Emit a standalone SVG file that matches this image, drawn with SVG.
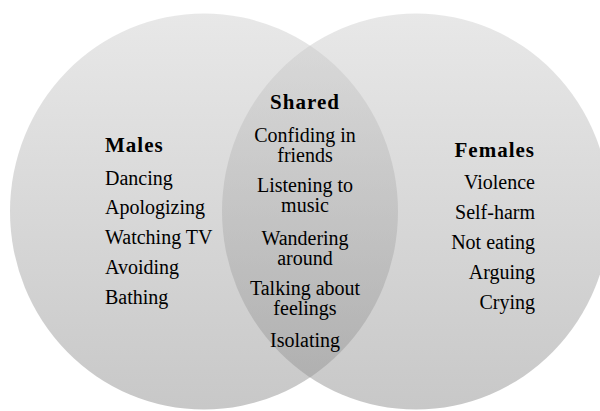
<svg xmlns="http://www.w3.org/2000/svg" width="600" height="411" viewBox="0 0 600 411">
  <defs>
    <linearGradient id="g" x1="0" y1="0" x2="0" y2="1">
      <stop offset="0" stop-color="#d1d1d1"/>
      <stop offset="1" stop-color="#919191"/>
    </linearGradient>
  </defs>
  <style>
    .c { fill: url(#g); fill-opacity: 0.5; }
    text { font-family: "Liberation Serif", "Times New Roman", serif; font-size: 20px; fill: #000; }
    .h { font-weight: bold; font-size: 21px; letter-spacing: 1px; }
    .l { text-anchor: start; }
    .m { text-anchor: middle; }
    .r { text-anchor: end; }
  </style>
  <rect width="600" height="411" fill="#ffffff"/>
  <g id="males">
    <ellipse class="c" cx="204" cy="211.5" rx="194" ry="198"/>
    <text class="h l" x="105" y="152">Males</text>
    <text class="l" x="105" y="185">Dancing</text>
    <text class="l" x="105" y="214">Apologizing</text>
    <text class="l" x="105" y="244">Watching TV</text>
    <text class="l" x="105" y="274">Avoiding</text>
    <text class="l" x="105" y="304">Bathing</text>
  </g>
  <g id="females">
    <ellipse class="c" cx="416" cy="211.5" rx="194" ry="198"/>
    <text class="h r" x="535" y="157">Females</text>
    <text class="r" x="535" y="189">Violence</text>
    <text class="r" x="535" y="219">Self-harm</text>
    <text class="r" x="535" y="249">Not eating</text>
    <text class="r" x="535" y="279">Arguing</text>
    <text class="r" x="535" y="309">Crying</text>
  </g>
  <g id="shared">
    <text class="h m" x="305" y="109">Shared</text>
    <text class="m" x="305" y="142">Confiding in</text>
    <text class="m" x="305" y="162">friends</text>
    <text class="m" x="305" y="192">Listening to</text>
    <text class="m" x="305" y="212">music</text>
    <text class="m" x="305" y="245">Wandering</text>
    <text class="m" x="305" y="265">around</text>
    <text class="m" x="305" y="295">Talking about</text>
    <text class="m" x="305" y="315">feelings</text>
    <text class="m" x="305" y="347">Isolating</text>
  </g>
</svg>
